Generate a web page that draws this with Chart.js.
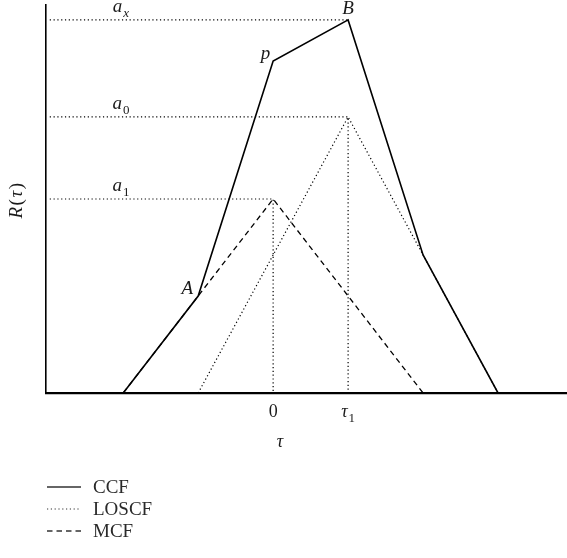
<!DOCTYPE html>
<html lang="en">

<head>
    <meta charset="UTF-8">
    <title>CCF, LOSCF and MCF</title>
    <script src="https://cdn.jsdelivr.net/npm/chart.js"></script>
    <style>
        body { margin: 0; background: #fff; }
    </style>
</head>

<body>
    <canvas id="correlation" width="567" height="558"></canvas>

    <script>
        // lag axis is in units of tau1; values are normalised so that a_x = 1
        const tauCCF = [-2, -1, 0, 1, 2, 3];
        const valCCF = [0, 0.26, 0.89, 1.0, 0.37, 0];
        const tauLOSCF = [-1, 1, 3];
        const valLOSCF = [0, 0.74, 0];
        const tauMCF = [-2, 0, 2];
        const valMCF = [0, 0.52, 0];

        // reference levels a_x, a_0, a_1 and the lag where each one is reached
        const levelNames = [["a", "x"], ["a", "0"], ["a", "1"]];
        const levelValues = [1.0, 0.74, 0.52];
        const levelTau = [1, 1, 0];
        const levelDropLine = [false, true, true];

        // named points on the CCF
        const pointNames = ["A", "p", "B"];
        const pointTau = [-1, 0, 1];
        const pointValues = [0.26, 0.89, 1.0];

        const tickValues = [0, 1];
        const tickLabels = [["0", ""], ["τ", "1"]];
        const legendLabels = ["CCF", "LOSCF", "MCF"];

        const X_MIN = -3.03, X_MAX = 3.92, Y_MAX = 1.04;
        const SERIF = '"Liberation Serif", "DejaVu Serif", serif';
        const DOTS = [1.2, 2.6];
        const DASHES = [5.5, 4];

        const pts = (xs, ys) => xs.map((x, i) => ({ x: x, y: ys[i] }));

        // dotted guides: horizontal from the R axis, vertical down to tau axis
        const guides = levelValues.map((v, i) => {
            const d = [{ x: X_MIN + 0.05, y: v }, { x: levelTau[i], y: v }];
            if (levelDropLine[i]) d.push({ x: levelTau[i], y: 0 });
            return {
                label: "guide",
                data: d,
                borderColor: "#000",
                borderWidth: 1.2,
                borderDash: DOTS,
                pointRadius: 0,
                showLine: true,
                fill: false,
                tension: 0,
            };
        });

        const curves = [
            { label: legendLabels[0], data: pts(tauCCF, valCCF), borderColor: "#000", borderWidth: 1.6, borderDash: [] },
            { label: legendLabels[1], data: pts(tauLOSCF, valLOSCF), borderColor: "#000", borderWidth: 1.2, borderDash: DOTS },
            { label: legendLabels[2], data: pts(tauMCF, valMCF), borderColor: "#000", borderWidth: 1.3, borderDash: DASHES },
        ].map((d) => Object.assign(d, { pointRadius: 0, showLine: true, fill: false, tension: 0 }));

        // base glyph in italics followed by a lowered subscript
        function drawSub(ctx, base, sub, cx, baseline, size, align) {
            const subSize = Math.round(size * 0.7);
            const subItalic = !/^[0-9]$/.test(sub);
            const baseFont = `${/^[0-9]$/.test(base) ? "" : "italic "}${size}px ${SERIF}`;
            const subFont = `${subItalic ? "italic " : ""}${subSize}px ${SERIF}`;
            ctx.font = baseFont;
            const wb = ctx.measureText(base).width;
            ctx.font = subFont;
            const ws = sub ? ctx.measureText(sub).width + 1 : 0;
            let left = cx - (wb + ws) / 2;
            if (align === "right") left = cx - wb - ws;
            ctx.textAlign = "left";
            ctx.textBaseline = "alphabetic";
            ctx.font = baseFont;
            ctx.fillText(base, left, baseline);
            if (sub) {
                ctx.font = subFont;
                ctx.fillText(sub, left + wb + 1, baseline + size * 0.28);
            }
        }

        const textLayer = {
            id: "textLayer",
            afterDraw(chart) {
                const { ctx, scales: { x, y }, chartArea } = chart;
                ctx.save();
                ctx.fillStyle = "#1a1a1a";

                // level names above their guide lines
                levelValues.forEach((v, i) => {
                    drawSub(ctx, levelNames[i][0], levelNames[i][1], chartArea.left + 75, y.getPixelForValue(v) - 8, 19);
                });

                // point names next to the CCF corners
                const offsets = [[-5, -2, "right"], [-3, -2, "right"], [0, -6, "center"]];
                pointNames.forEach((n, i) => {
                    const px = x.getPixelForValue(pointTau[i]) + offsets[i][0];
                    const py = y.getPixelForValue(pointValues[i]) + offsets[i][1];
                    drawSub(ctx, n, "", px, py, 19, offsets[i][2]);
                });

                // tick labels on the tau axis
                tickValues.forEach((t, i) => {
                    drawSub(ctx, tickLabels[i][0], tickLabels[i][1], x.getPixelForValue(t), chartArea.bottom + 24, 18);
                });

                // axis titles
                drawSub(ctx, "τ", "", x.getPixelForValue(0.09), chartArea.bottom + 54, 18);
                ctx.save();
                ctx.translate(17, 200);
                ctx.rotate(-Math.PI / 2);
                ctx.textBaseline = "middle";
                const parts = [["R", true], ["(", false], ["τ", true], [")", false]];
                const gap = 1.5;
                const widths = parts.map((p) => {
                    ctx.font = `${p[1] ? "italic " : ""}19px ${SERIF}`;
                    return ctx.measureText(p[0]).width + gap;
                });
                let lx = -widths.reduce((a, b) => a + b, 0) / 2;
                parts.forEach((p, i) => {
                    ctx.font = `${p[1] ? "italic " : ""}19px ${SERIF}`;
                    ctx.textAlign = "left";
                    ctx.fillText(p[0], lx, 0);
                    lx += widths[i];
                });
                ctx.restore();

                // legend, one row per curve
                curves.forEach((ds, i) => {
                    const ly = 487 + i * 22;
                    ctx.beginPath();
                    ctx.setLineDash(ds.borderDash);
                    ctx.lineWidth = ds.borderWidth;
                    ctx.strokeStyle = "#333";
                    ctx.moveTo(47, ly);
                    ctx.lineTo(81, ly);
                    ctx.stroke();
                    ctx.setLineDash([]);
                    ctx.font = `19px ${SERIF}`;
                    ctx.textAlign = "left";
                    ctx.textBaseline = "alphabetic";
                    ctx.fillStyle = "#2a2a2a";
                    ctx.fillText(legendLabels[i], 93, ly + 6);
                });
                ctx.restore();
            },
        };

        new Chart(document.getElementById("correlation"), {
            type: "scatter",
            data: { datasets: [...guides, ...curves] },
            options: {
                responsive: false,
                animation: false,
                devicePixelRatio: 1,
                layout: { padding: { left: 46, top: 5, right: 0, bottom: 165 } },
                plugins: { legend: { display: false }, tooltip: { enabled: false } },
                scales: {
                    x: {
                        type: "linear",
                        min: X_MIN,
                        max: X_MAX,
                        grid: { display: false, drawTicks: false },
                        ticks: { display: false },
                        border: { display: true, color: "#000", width: 2.2 },
                    },
                    y: {
                        min: 0,
                        max: Y_MAX,
                        grid: { display: false, drawTicks: false },
                        ticks: { display: false },
                        border: { display: true, color: "#000", width: 1.6 },
                    },
                },
            },
            plugins: [textLayer],
        });
    </script>
</body>

</html>
